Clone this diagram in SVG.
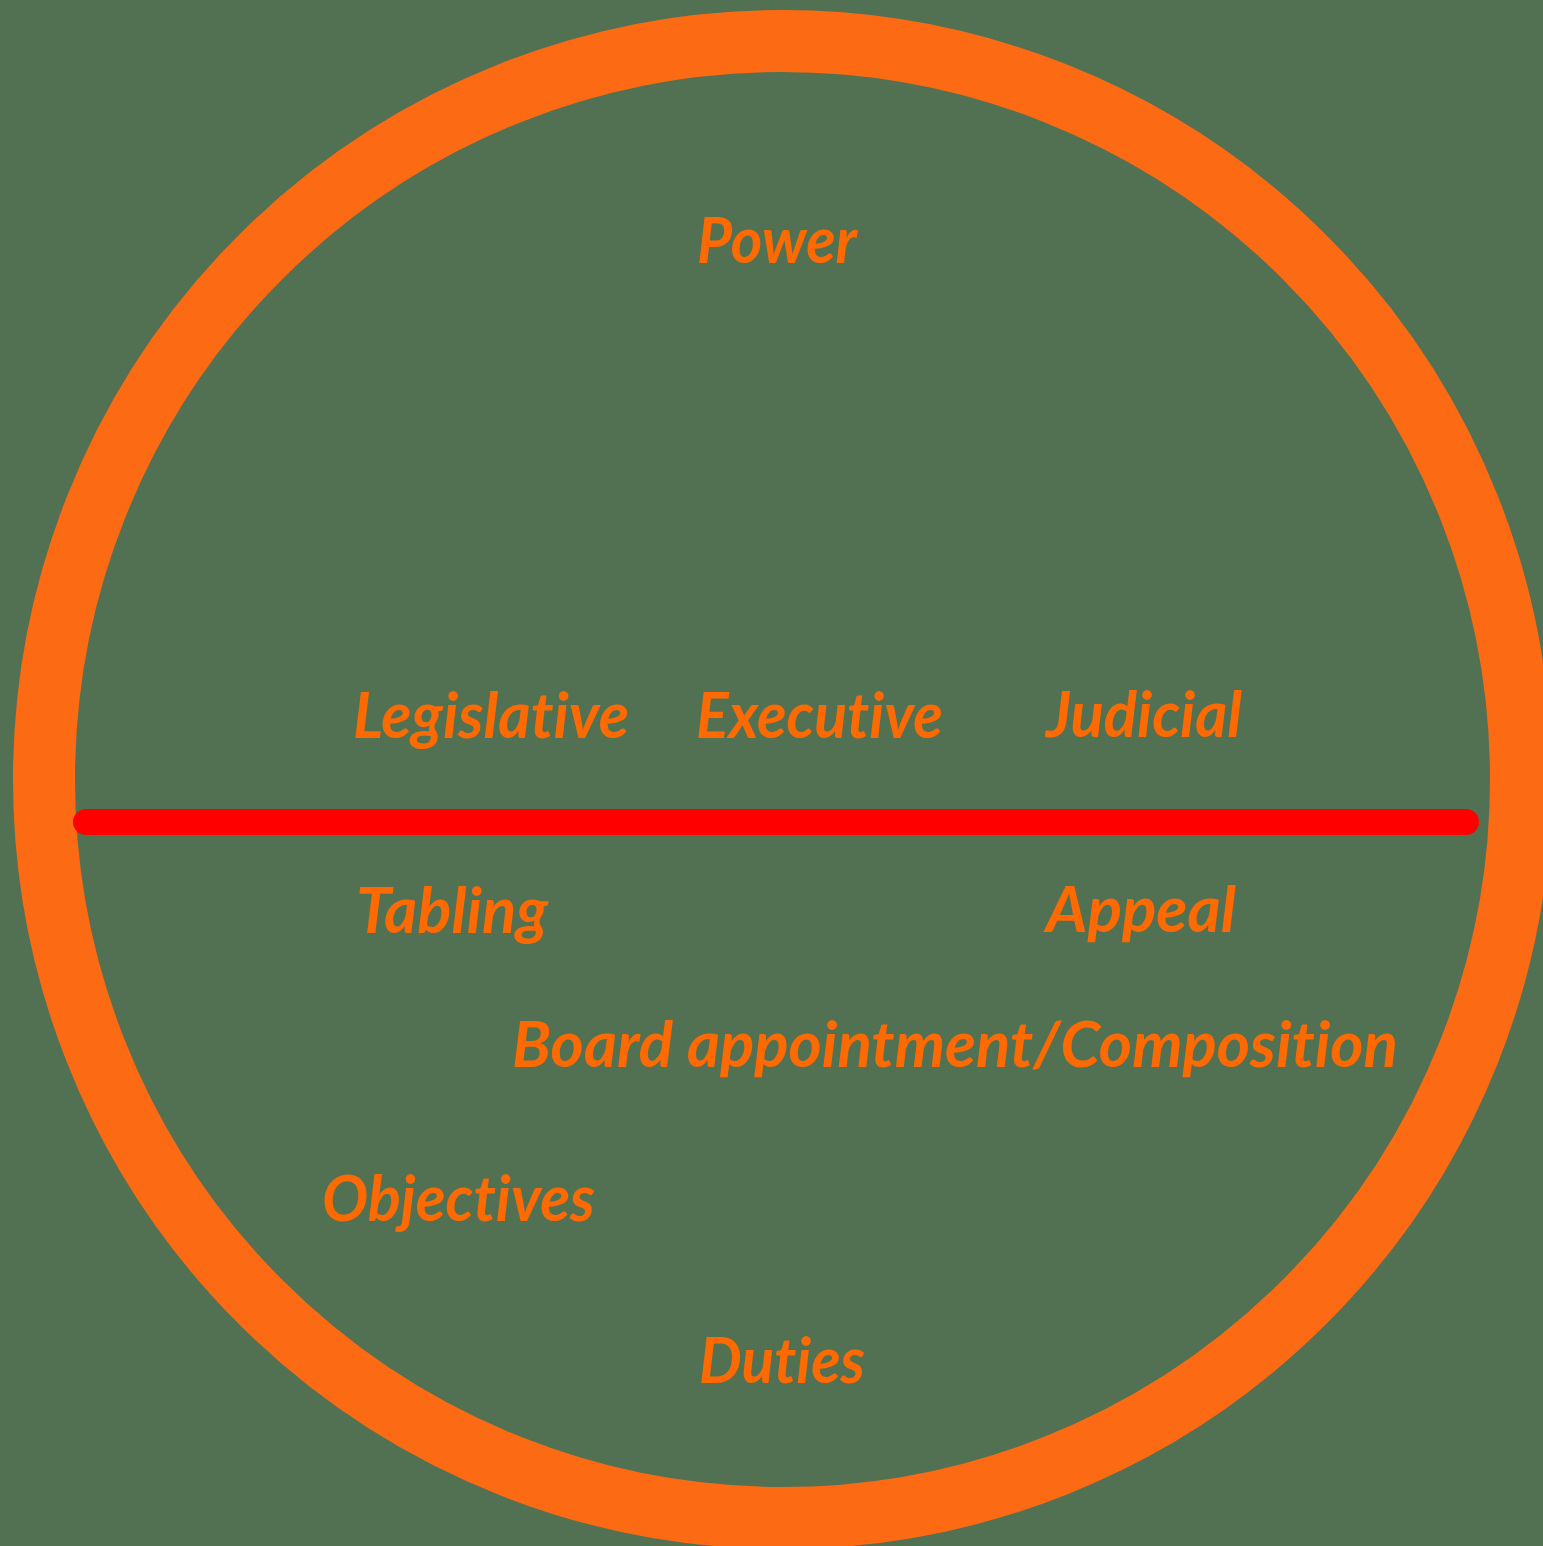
<svg xmlns="http://www.w3.org/2000/svg" width="1543" height="1546" viewBox="0 0 1543 1546">
<style>
.lbl{font-family:"Lato","Liberation Sans",sans-serif;font-weight:bold;font-style:italic;font-size:64px;fill:#FF6A00;font-variant-ligatures:none;font-feature-settings:"liga" 0}
</style>
<rect x="0" y="0" width="1543" height="1546" fill="#527153"/>
<g id="ring">
<circle cx="782.5" cy="779.5" r="738.5" fill="none" stroke="#FD6A14" stroke-width="62"/>
</g>
<g id="connectors">
<line x1="86" y1="822" x2="1466" y2="822" stroke="#FF0000" stroke-width="26" stroke-linecap="round"/>
</g>
<g id="power"><text class="lbl" x="697" y="263" textLength="160" lengthAdjust="spacingAndGlyphs">Power</text></g>
<g id="legislative"><text class="lbl" x="353" y="738" textLength="276" lengthAdjust="spacingAndGlyphs">Legislative</text></g>
<g id="executive"><text class="lbl" x="696" y="738" textLength="247" lengthAdjust="spacingAndGlyphs">Executive</text></g>
<g id="judicial"><text class="lbl" x="1046" y="737" textLength="196" lengthAdjust="spacingAndGlyphs">Judicial</text></g>
<g id="tabling"><text class="lbl" x="356" y="933" textLength="192" lengthAdjust="spacingAndGlyphs">Tabling</text></g>
<g id="appeal"><text class="lbl" x="1046" y="932" textLength="190" lengthAdjust="spacingAndGlyphs">Appeal</text></g>
<g id="board"><text class="lbl" x="512" y="1067" textLength="886" lengthAdjust="spacingAndGlyphs">Board appointment/Composition</text></g>
<g id="objectives"><text class="lbl" x="322" y="1221" textLength="273" lengthAdjust="spacingAndGlyphs">Objectives</text></g>
<g id="duties"><text class="lbl" x="699" y="1383" textLength="166" lengthAdjust="spacingAndGlyphs">Duties</text></g>
</svg>
